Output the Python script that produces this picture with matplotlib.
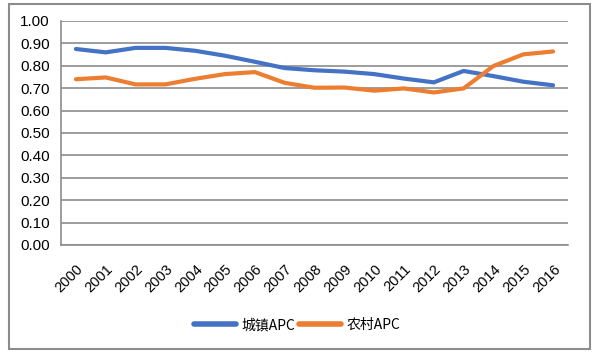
import matplotlib.pyplot as plt
from matplotlib.patches import Rectangle

years = [str(y) for y in range(2000, 2017)]
urban_apc = [0.875, 0.860, 0.880, 0.880, 0.867, 0.845, 0.818, 0.790, 0.780, 0.774,
             0.763, 0.743, 0.726, 0.777, 0.754, 0.729, 0.713]
rural_apc = [0.740, 0.748, 0.717, 0.717, 0.742, 0.763, 0.772, 0.724, 0.702, 0.703,
             0.689, 0.699, 0.681, 0.699, 0.799, 0.851, 0.864]
yticks = [i / 10 for i in range(11)]

plt.rcParams['font.family'] = ['Liberation Sans', 'Noto Sans CJK SC']

fig = plt.figure(figsize=(5.93, 3.54), dpi=100)
fig.patches.append(Rectangle((9 / 593, 1 - 349 / 354), 581 / 593, 345 / 354,
                             transform=fig.transFigure, fill=False,
                             edgecolor="#8c8c8c", linewidth=1.5))

ax = fig.add_axes([61 / 593, 1 - 245 / 354, 507 / 593, 224 / 354])
x = range(len(years))
ax.plot(x, urban_apc, color="#4472C4", linewidth=3, label="城镇APC", solid_capstyle="round")
ax.plot(x, rural_apc, color="#ED7D31", linewidth=3, label="农村APC", solid_capstyle="round")

ax.set_xlim(-0.5, len(years) - 0.5)
ax.set_ylim(0, 1.0)
ax.set_yticks(yticks)
ax.set_yticklabels([f"{v:.2f}" for v in yticks], fontsize=11)
ax.set_xticks(list(x))
ax.set_xticklabels(years, rotation=45, ha="right", rotation_mode="anchor", fontsize=10.5)
ax.tick_params(axis="both", length=0)
ax.tick_params(axis="x", pad=12)
ax.tick_params(axis="y", pad=8)
ax.grid(axis="y", color="#8c8c8c", linewidth=1.2)
ax.set_axisbelow(True)
for s in ["top", "right"]:
    ax.spines[s].set_visible(False)
for s in ["left", "bottom"]:
    ax.spines[s].set_color("#8c8c8c")
    ax.spines[s].set_linewidth(1.2)

leg = ax.legend(loc="center", bbox_to_anchor=(297 / 593, 1 - 325 / 354), bbox_transform=fig.transFigure,
                ncol=2, frameon=False, handlelength=3, columnspacing=0.3,
                handletextpad=0.4, prop={'family': ['Noto Sans CJK SC'], 'size': 10})
for line in leg.get_lines():
    line.set_linewidth(4)

fig.savefig("out.png", dpi=100)
